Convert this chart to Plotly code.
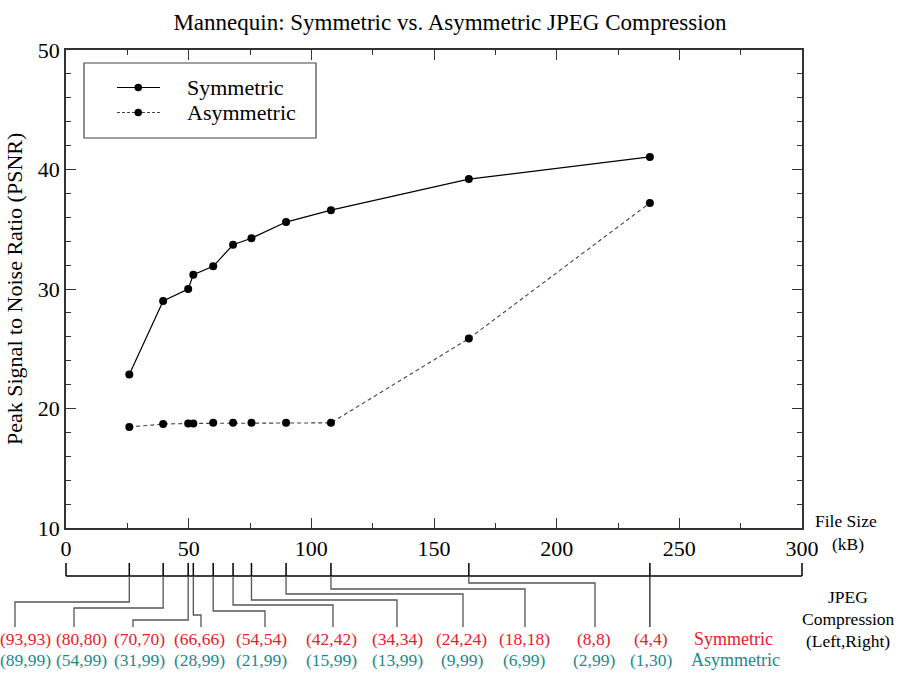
import plotly.graph_objects as go

# File size (kB) for each JPEG compression setting
file_size = [25.8, 39.6, 49.8, 51.9, 60.0, 68.1, 75.6, 89.7, 108.0, 164.2, 238.0]
sym_psnr = [22.85, 29.0, 30.0, 31.2, 31.9, 33.7, 34.25, 35.6, 36.6, 39.2, 41.05]
asym_psnr = [18.45, 18.7, 18.75, 18.75, 18.8, 18.8, 18.8, 18.8, 18.8, 25.85, 37.2]

# JPEG quality settings (left, right) for each file size
sym_labels = ["(93,93)", "(80,80)", "(70,70)", "(66,66)", "(54,54)", "(42,42)",
              "(34,34)", "(24,24)", "(18,18)", "(8,8)", "(4,4)"]
asym_labels = ["(89,99)", "(54,99)", "(31,99)", "(28,99)", "(21,99)", "(15,99)",
               "(13,99)", "(9,99)", "(6,99)", "(2,99)", "(1,30)"]

x_ticks = [0, 50, 100, 150, 200, 250, 300]
y_ticks = [10, 20, 30, 40, 50]

FONT = "Liberation Serif"
RED = "#e3212b"
TEAL = "#1d8a8a"
W, H = 900, 675
ML, MR, MT, MB = 66, 98, 50, 147
PW, PH = W - ML - MR, H - MT - MB
X_RANGE = [0, 300]

# pixel -> paper helpers for the annotation layout below the plot
def pxx(p):
    return (p - ML) / PW

def pxy(p):
    return (H - MB - p) / PH

def data_to_paper(v):
    return (v - X_RANGE[0]) / (X_RANGE[1] - X_RANGE[0])

fig = go.Figure()
fig.add_trace(go.Scatter(
    x=file_size, y=sym_psnr, mode="lines+markers", name="Symmetric",
    line=dict(color="black", width=1.2),
    marker=dict(color="black", size=8), showlegend=False))
fig.add_trace(go.Scatter(
    x=file_size, y=asym_psnr, mode="lines+markers", name="Asymmetric",
    line=dict(color="#444444", width=1.1, dash="4px,3px"),
    marker=dict(color="black", size=8), showlegend=False))

shapes = []
annotations = []

# legend box
shapes.append(dict(type="rect", xref="paper", yref="paper",
                   x0=pxx(84), x1=pxx(316), y0=pxy(63), y1=pxy(138),
                   line=dict(color="#444", width=1.2)))
for name, yy, dash in [("Symmetric", 87.5, "solid"), ("Asymmetric", 112.5, "dash")]:
    shapes.append(dict(type="line", xref="paper", yref="paper",
                       x0=pxx(117), x1=pxx(160), y0=pxy(yy), y1=pxy(yy),
                       line=dict(color="black" if dash == "solid" else "#444",
                                 width=1.1, dash="solid" if dash == "solid" else "3px,2px")))
    shapes.append(dict(type="circle", xref="paper", yref="paper",
                       x0=pxx(134.5), x1=pxx(142), y0=pxy(yy + 3.75), y1=pxy(yy - 3.75),
                       fillcolor="black", line=dict(color="black", width=0)))
    annotations.append(dict(text=name, xref="paper", yref="paper", x=pxx(185), y=pxy(yy),
                            xanchor="left", yanchor="middle", showarrow=False,
                            font=dict(family=FONT, size=22, color="black")))

# compression axis below the file-size axis
AX_Y = 576
TICK_TOP = 563
shapes.append(dict(type="line", xref="paper", yref="paper",
                   x0=data_to_paper(0), x1=data_to_paper(300), y0=pxy(AX_Y), y1=pxy(AX_Y),
                   line=dict(color="black", width=1.5)))
for v in [0, 300]:
    shapes.append(dict(type="line", xref="paper", yref="paper",
                       x0=data_to_paper(v), x1=data_to_paper(v), y0=pxy(TICK_TOP), y1=pxy(AX_Y),
                       line=dict(color="black", width=1.5)))
for v in file_size:
    shapes.append(dict(type="line", xref="paper", yref="paper",
                       x0=data_to_paper(v), x1=data_to_paper(v), y0=pxy(TICK_TOP), y1=pxy(AX_Y),
                       line=dict(color="black", width=1.5)))

# leader lines from each tick to its label pair
label_x = [25, 81, 139, 199, 261, 331, 397, 462, 524, 594, 651]
leader_x = [15, 74, 133, 201, 265, 333, 397, 463, 525, 595, 650]
elbow_y = [602, 608, 620, 615, 611, 605, 600, 594, 589, 583, None]
LABEL_TOP = 627
for v, lx, ey in zip(file_size, leader_x, elbow_y):
    tx = data_to_paper(v)
    if ey is None:
        path = f"M{tx},{pxy(AX_Y)} L{tx},{pxy(LABEL_TOP)}"
        col = "#222"
    else:
        path = (f"M{tx},{pxy(AX_Y)} L{tx},{pxy(ey)} L{pxx(lx)},{pxy(ey)} "
                f"L{pxx(lx)},{pxy(LABEL_TOP)}")
        col = "#555"
    shapes.append(dict(type="path", xref="paper", yref="paper", path=path,
                       line=dict(color=col, width=1.3)))

ROW1, ROW2 = 639, 660
for lx, s, a in zip(label_x, sym_labels, asym_labels):
    annotations.append(dict(text=s, xref="paper", yref="paper", x=pxx(lx), y=pxy(ROW1),
                            xanchor="center", yanchor="middle", showarrow=False,
                            font=dict(family=FONT, size=17.5, color=RED)))
    annotations.append(dict(text=a, xref="paper", yref="paper", x=pxx(lx), y=pxy(ROW2),
                            xanchor="center", yanchor="middle", showarrow=False,
                            font=dict(family=FONT, size=17.5, color=TEAL)))
annotations.append(dict(text="Symmetric", xref="paper", yref="paper", x=pxx(733), y=pxy(ROW1),
                        xanchor="center", yanchor="middle", showarrow=False,
                        font=dict(family=FONT, size=18, color=RED)))
annotations.append(dict(text="Asymmetric", xref="paper", yref="paper", x=pxx(735), y=pxy(ROW2),
                        xanchor="center", yanchor="middle", showarrow=False,
                        font=dict(family=FONT, size=18, color=TEAL)))
for txt, yy in [("JPEG", 597), ("Compression", 619), ("(Left,Right)", 641)]:
    annotations.append(dict(text=txt, xref="paper", yref="paper", x=pxx(848), y=pxy(yy),
                            xanchor="center", yanchor="middle", showarrow=False,
                            font=dict(family=FONT, size=17.5, color="black")))
for txt, xx, yy in [("File Size", 846, 521), ("(kB)", 848, 544)]:
    annotations.append(dict(text=txt, xref="paper", yref="paper", x=pxx(xx), y=pxy(yy),
                            xanchor="center", yanchor="middle", showarrow=False,
                            font=dict(family=FONT, size=17.5, color="black")))

# y-axis title
annotations.append(dict(text="Peak Signal to Noise Ratio (PSNR)", xref="paper", yref="paper",
                        x=pxx(14), y=pxy(289), textangle=-90, xanchor="center",
                        yanchor="middle", showarrow=False,
                        font=dict(family=FONT, size=22, color="black")))

axis_common = dict(showline=True, linecolor="#333", linewidth=1.5, mirror="ticks",
                   ticks="inside", tickcolor="#333", tickwidth=1.2, ticklen=10,
                   showgrid=False, zeroline=False,
                   tickfont=dict(family=FONT, size=22, color="black"))

fig.update_layout(
    width=W, height=H,
    margin=dict(l=ML, r=MR, t=MT, b=MB),
    paper_bgcolor="white", plot_bgcolor="white",
    font=dict(family=FONT),
    title=dict(text="Mannequin: Symmetric vs. Asymmetric JPEG Compression",
               x=0.5, xref="container", xanchor="center",
               y=1 - 21.5 / H, yref="container", yanchor="middle",
               font=dict(family=FONT, size=23, color="black")),
    xaxis=dict(range=X_RANGE, tickvals=x_ticks, ticklabelstandoff=0,
               minor=dict(dtick=25, ticks="inside", ticklen=5, tickcolor="#333", tickwidth=1.2),
               **axis_common),
    yaxis=dict(range=[10, 50], tickvals=y_ticks,
               minor=dict(dtick=2, ticks="inside", ticklen=5, tickcolor="#333", tickwidth=1.2),
               **axis_common),
    shapes=shapes, annotations=annotations,
)

fig.write_html("out.html")
